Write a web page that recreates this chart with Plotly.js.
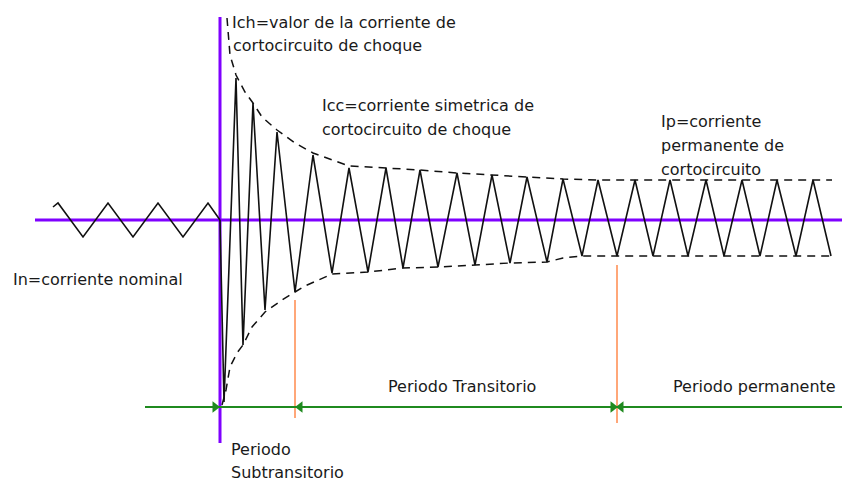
<!DOCTYPE html>
<html>
<head>
<meta charset="utf-8">
<script src="https://cdn.plot.ly/plotly-3.0.1.min.js"></script>
<style>
  html, body { margin: 0; padding: 0; background: #fff; }
  #chart { width: 842px; height: 483px; }
</style>
</head>
<body>
<div id="chart"></div>
<script>
// schematic units: t = time from the fault, i = current (0 on the purple axis)

// nominal current before the fault
var nominalT = [-167, -162, -137, -112, -87, -62, -37, -12, 0];
var nominalI = [13, 17, -17, 17, -17, 17, -17, 17, 0];

// short-circuit current after the fault
var faultT = [0, 4, 16, 23, 33, 45, 57, 75, 93, 112, 129, 148, 166, 183, 200, 218, 237, 255, 272, 290,
  307, 327, 343, 362, 378, 397, 415, 433, 450, 468, 486, 504, 522, 540, 557, 576, 593, 611];
var faultI = [0, -182, 142, -125, 117, -90, 88, -72, 65, -53, 52, -52, 52, -48, 50, -47, 47, -45, 45, -43,
  43, -42, 41, -36, 40, -36, 40, -36, 40, -36, 40, -36, 40, -36, 40, -36, 40, -36];

// envelopes (dashed)
var upperT = [7, 10, 16, 25, 33, 42, 57, 75, 93, 129, 166, 200, 237, 272, 307, 343, 378, 612];
var upperI = [202, 165, 145, 128, 117, 103, 90, 77, 67, 54, 52, 50, 47, 45, 43, 41, 40, 40];
var lowerT = [2, 6, 10, 17, 23, 32, 45, 62, 75, 85, 112, 148, 183, 218, 255, 290, 327, 343, 362, 611];
var lowerI = [-185, -170, -147, -133, -125, -107, -92, -80, -72, -66, -54, -52, -48, -47, -45, -43, -42, -38, -36, -36];

// axes of the diagram
var axisT = [-185, 622];
var axisI = [203, -223];

// period boundaries and time line
var timeLineT = [-75, 622];
var timeLineI = -187;
var boundT = [75, 397];
var boundTop = [-80, -45];
var boundBottom = [-198, -203];
var arrowRightT = [-5, 393];
var arrowLeftT = [80, 401];

var black = '#111111';
var purple = '#7f00ff';
var green = '#1f8a1f';
var orange = '#ff8a4c';

var traces = [];

// purple axes
traces.push({x: axisT, y: [0, 0], mode: 'lines', line: {color: purple, width: 3}});
traces.push({x: [0, 0], y: axisI, mode: 'lines', line: {color: purple, width: 3}});

// orange boundaries
boundT.forEach(function (t, k) {
  traces.push({x: [t, t], y: [boundTop[k], boundBottom[k]], mode: 'lines', line: {color: orange, width: 1.5}});
});

// green time line with arrows
traces.push({x: timeLineT, y: [timeLineI, timeLineI], mode: 'lines', line: {color: green, width: 2}});
traces.push({x: arrowRightT, y: arrowRightT.map(function () { return timeLineI; }), mode: 'markers',
  marker: {symbol: 'triangle-right', size: 10, color: green}});
traces.push({x: arrowLeftT, y: arrowLeftT.map(function () { return timeLineI; }), mode: 'markers',
  marker: {symbol: 'triangle-left', size: 10, color: green}});

// envelopes
traces.push({x: upperT, y: upperI, mode: 'lines', line: {color: black, width: 1.5, dash: '8px,6px'}});
traces.push({x: lowerT, y: lowerI, mode: 'lines', line: {color: black, width: 1.5, dash: '8px,6px'}});

// currents
traces.push({x: nominalT, y: nominalI, mode: 'lines', line: {color: black, width: 1.6}});
traces.push({x: faultT, y: faultI, mode: 'lines', line: {color: black, width: 1.6}});

function label(text, t, i) {
  return {x: t, y: i, text: text, showarrow: false, xanchor: 'left', yanchor: 'middle',
    borderpad: 0, font: {family: 'DejaVu Sans', size: 16, color: '#1a1a1a'}};
}

var layout = {
  width: 842,
  height: 483,
  margin: {l: 0, r: 0, t: 0, b: 0},
  paper_bgcolor: '#ffffff',
  plot_bgcolor: '#ffffff',
  showlegend: false,
  xaxis: {range: [-220, 622], visible: false, fixedrange: true},
  yaxis: {range: [-263, 220], visible: false, fixedrange: true},
  annotations: [
    label('Ich=valor de la corriente de', 11, 198),
    label('cortocircuito de choque', 12, 175),
    label('Icc=corriente simetrica de', 101, 115),
    label('cortocircuito de choque', 101, 91),
    label('Ip=corriente', 440, 99),
    label('permanente de', 440, 75),
    label('cortocircuito', 440, 51),
    label('In=corriente nominal', -208, -59),
    label('Periodo Transitorio', 167, -166),
    label('Periodo permanente', 452, -166),
    label('Periodo', 10, -229),
    label('Subtransitorio', 10, -252)
  ]
};

Plotly.newPlot('chart', traces, layout, {displayModeBar: false, staticPlot: true});
</script>
</body>
</html>
